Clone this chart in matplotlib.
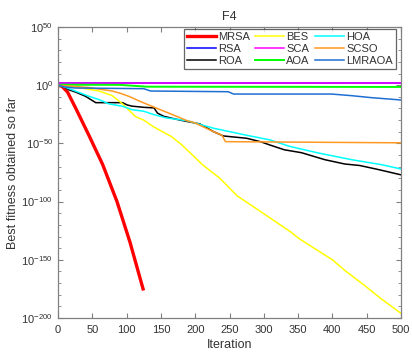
import matplotlib
matplotlib.use("Agg")
import matplotlib.pyplot as plt
from matplotlib.ticker import NullFormatter
import numpy as np

plt.rcParams['font.family'] = ['Liberation Sans', 'DejaVu Sans']
plt.rcParams['mathtext.fontset'] = 'custom'
plt.rcParams['mathtext.rm'] = 'Liberation Sans'
plt.rcParams['mathtext.it'] = 'Liberation Sans'
plt.rcParams['mathtext.default'] = 'regular'

# convergence curves, values stored as log10(best fitness)
mrsa_x = [0, 6, 14, 26, 45, 65, 86, 105, 124]
mrsa_y = [0, -1, -6, -20, -43, -68, -100, -135, -175]

rsa_x = [0, 315, 315, 500]
rsa_y = [2.0, 2.0, 1.5, 1.5]

roa_x = [0, 11, 16, 26, 40, 55, 94, 101, 108, 125, 140, 145, 154, 178, 207, 227, 241,
         275, 295, 309, 330, 355, 389, 418, 440, 468, 500]
roa_y = [0, -2, -4, -6, -9.5, -15, -15, -17, -18, -19, -19.5, -24, -26.7, -30, -33.3, -40, -43.6,
         -45.6, -48.5, -51.4, -55.5, -58, -64, -67.7, -69, -72.6, -77]

bes_x = [0, 30, 60, 79, 94, 113, 125, 140, 165, 180, 212, 236, 261, 294, 309, 339, 352,
         400, 420, 449, 470, 500]
bes_y = [0, -2, -5, -9, -16, -27, -30, -36, -44, -51, -69, -80, -95, -108, -114, -126, -132,
         -150, -160, -173, -183, -196]

sca_x = [0, 72, 72, 315, 315, 500]
sca_y = [2.3, 2.3, 2.0, 2.0, 1.5, 1.5]

aoa_x = [0, 5, 90, 130, 500]
aoa_y = [0, 0.4, 0.3, -1.3, -1.5]

hoa_x = [0, 11, 26, 45, 60, 74, 94, 108, 125, 140, 157, 188, 227, 275, 309, 338, 380,
         428, 472, 500]
hoa_y = [0, -1.8, -5.2, -9.5, -12.4, -16, -18.1, -21, -22.4, -25.3, -28, -30.5, -37, -43,
         -47, -52.6, -58.3, -64, -68.3, -72]

scso_x = [0, 45, 79, 91, 103, 120, 149, 174, 188, 198, 227, 239, 244, 500]
scso_y = [0, -2, -5, -7, -9.5, -14, -21, -27, -30.5, -32, -40, -43, -48.5, -49.5]

lmraoa_x = [0, 10, 25, 125, 135, 248, 256, 399, 428, 457, 500]
lmraoa_y = [0, -1.5, -2.4, -3, -5, -5.6, -7.6, -7.6, -9, -10.7, -12.7]

series = [
    ("MRSA", mrsa_x, mrsa_y, "#ff0000", 2.4),
    ("RSA", rsa_x, rsa_y, "#0000ff", 1.1),
    ("ROA", roa_x, roa_y, "#000000", 1.1),
    ("BES", bes_x, bes_y, "#ffff00", 1.1),
    ("SCA", sca_x, sca_y, "#ff00ff", 1.1),
    ("AOA", aoa_x, aoa_y, "#00ff00", 1.4),
    ("HOA", hoa_x, hoa_y, "#00ffff", 1.1),
    ("SCSO", scso_x, scso_y, "#ff9922", 1.1),
    ("LMRAOA", lmraoa_x, lmraoa_y, "#1f6fd2", 1.1),
]

fig = plt.figure(figsize=(4.12, 3.54), dpi=100)
ax = fig.add_axes([58 / 412, 36 / 354, 343 / 412, 291 / 354])

for name, xs, ys, col, lw in series:
    ax.plot(xs, 10.0 ** np.array(ys), color=col, linewidth=lw, label=name)

ax.set_yscale('log')
ax.set_xlim(0, 500)
ax.set_ylim(1e-200, 1e50)

major = list(range(-200, 51, 50))
ax.set_yticks([10.0 ** k for k in major])
ax.set_yticklabels([r'$10^{%d}$' % k for k in major])
ax.set_yticks([10.0 ** k for k in range(-200, 51, 10) if k % 50 != 0], minor=True)
ax.yaxis.set_minor_formatter(NullFormatter())
ax.set_xticks(range(0, 501, 50))

gray = '#808080'
txt = '#333333'
for sp in ax.spines.values():
    sp.set_color(gray)
    sp.set_linewidth(0.9)
ax.tick_params(which='both', direction='in', top=True, right=True, colors=gray,
               labelcolor=txt, labelsize=8)
ax.tick_params(which='major', length=3.5)
ax.tick_params(which='minor', length=2)
ax.tick_params(axis='x', pad=5)

ax.set_title('F4', fontsize=9, color=txt, pad=5)
ax.set_xlabel('Iteration', fontsize=9, color=txt, labelpad=3)
ax.set_ylabel('Best fitness obtained so far', fontsize=9, color=txt, labelpad=2)

leg = ax.legend(ncol=3, loc='upper right', bbox_to_anchor=(0.985, 0.993), fontsize=8,
                frameon=True, fancybox=False, handlelength=2.6, handletextpad=0.2,
                columnspacing=0.5, labelspacing=0.2, borderpad=0.25, borderaxespad=0)
leg.get_frame().set_edgecolor('#404040')
leg.get_frame().set_linewidth(0.9)
for t in leg.get_texts():
    t.set_color(txt)

fig.savefig('out.png', dpi=100)
